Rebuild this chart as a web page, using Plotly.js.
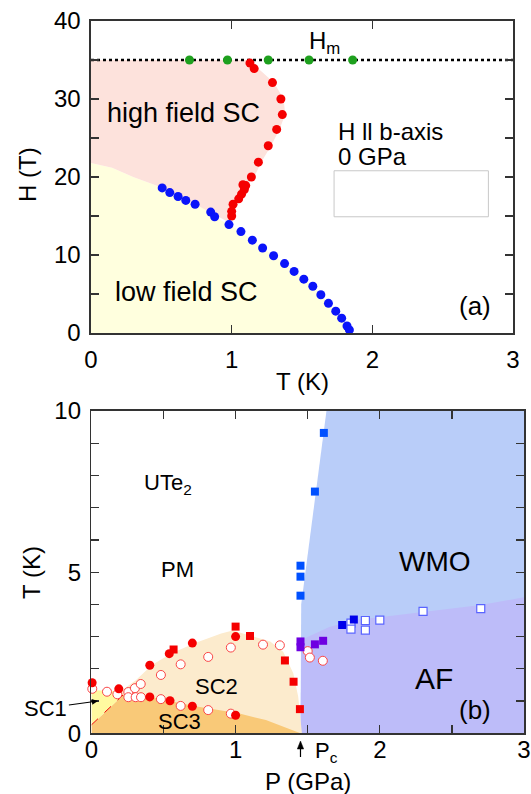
<!DOCTYPE html>
<html>
<head>
<meta charset="utf-8">
<script src="https://cdn.plot.ly/plotly-3.0.1.min.js"></script>
<style>
html,body{margin:0;padding:0;background:#fff;}
#chart{width:531px;height:794px;}
</style>
</head>
<body>
<div id="chart"></div>
<script>
// ---------- Panel (a): H vs T at 0 GPa ----------
const greenT = [0.70, 0.97, 1.26, 1.55, 1.86];
const greenH = [35, 35, 35, 35, 35];

const redT = [1.13, 1.16, 1.29, 1.35, 1.36, 1.32, 1.26, 1.19, 1.14, 1.10, 1.08, 1.09, 1.07, 1.05, 1.01, 1.00, 1.00];
const redH = [34.6, 33.9, 32.1, 30.0, 28.0, 26.1, 24.0, 21.9, 20.0, 18.9, 19.0, 18.4, 17.8, 17.2, 16.5, 15.6, 15.0];

const blueT = [0.506, 0.560, 0.619, 0.674, 0.740, 0.851, 0.879, 0.981, 1.066, 1.147, 1.220, 1.298, 1.376, 1.444, 1.513, 1.577, 1.634, 1.688, 1.740, 1.782, 1.820, 1.837];
const blueH = [18.6, 18.0, 17.5, 17.0, 16.5, 15.5, 14.9, 13.9, 13.0, 11.9, 10.9, 9.9, 8.9, 7.9, 6.9, 6.0, 4.9, 3.8, 2.8, 1.9, 0.9, 0.4];

const lowEdgeT = [0, 0.15, 0.30, 0.45];
const lowEdgeH = [21.8, 21.2, 20.0, 19.0];

const pinkT = [0, 0, 1.12, 1.17, 1.30, 1.37, 1.38, 1.34, 1.28, 1.21, 1.16, 1.11, 1.08, 1.03, 1.01, 0.98, 0.88, 0.74, 0.62, 0.506, 0.45, 0.30, 0.15, 0];
const pinkH = [21.8, 35, 35, 34.2, 32.1, 30.0, 28.0, 26.1, 24.0, 21.9, 20.0, 19.0, 17.5, 16.5, 15.2, 14.2, 15.2, 16.5, 17.5, 18.6, 19.0, 20.0, 21.2, 21.8];

const hmLineT = [0, 3];
const hmLineH = [35, 35];

// ---------- Panel (b): T vs P ----------
const wmoSqP = [1.612, 1.55, 1.45, 1.45, 1.45];
const wmoSqT = [9.32, 7.50, 5.20, 4.86, 4.27];
const darkSqP = [1.739, 1.82];
const darkSqT = [3.36, 3.53];
const openSqP = [1.80, 1.80, 1.90, 1.90, 2.00, 2.30, 2.70];
const openSqT = [3.42, 3.23, 3.50, 3.20, 3.51, 3.78, 3.87];
const purpleSqP = [1.45, 1.45, 1.55, 1.607];
const purpleSqT = [2.85, 2.67, 2.76, 2.87];
const redSqP = [1.00, 1.10, 1.342, 1.402, 1.446, 0.570];
const redSqT = [3.31, 3.02, 2.26, 1.60, 0.75, 2.60];
const redDotP = [0.005, 0.19, 0.405, 0.54, 0.70, 1.00, 0.405, 0.545, 0.70, 1.00];
const redDotT = [1.57, 1.38, 2.11, 2.47, 2.80, 3.00, 1.13, 1.01, 0.84, 0.56];
const openDotP = [0.006, 0.108, 0.18, 0.256, 0.256, 0.302, 0.307, 0.342, 0.344, 0.482, 0.482, 0.619, 0.619, 0.81, 0.81, 0.967, 0.967, 1.19, 1.307, 1.50, 1.515, 1.605];
const openDotT = [1.38, 1.29, 1.21, 1.28, 1.12, 1.40, 1.12, 1.53, 1.12, 1.81, 1.06, 2.14, 0.85, 2.37, 0.72, 2.66, 0.61, 2.75, 2.73, 2.55, 2.35, 2.25];

const wmoP = [1.45, 1.455, 1.63, 3, 3];
const wmoT = [0, 4.0, 10, 10, 0];
const afP = [1.45, 1.457, 1.65, 1.84, 2.07, 2.30, 2.70, 3.0, 3.0];
const afT = [0, 2.90, 3.30, 3.52, 3.64, 3.76, 3.98, 4.22, 0];
const sc2P = [0.20, 0.31, 0.42, 0.556, 0.72, 0.90, 0.98, 1.03, 1.24, 1.33, 1.40, 1.434, 1.46, 0.20];
const sc2T = [1.30, 1.65, 2.12, 2.48, 2.80, 3.10, 3.19, 3.12, 2.85, 2.53, 1.86, 1.14, 0, 0];
const sc3P = [0, 0, 0.22, 0.30, 0.42, 0.72, 1.02, 1.21, 1.45];
const sc3T = [0, 0.26, 1.19, 1.20, 1.12, 0.84, 0.62, 0.41, 0];
const sc1P = [0, 0, 0.20, 0.22];
const sc1T = [0.26, 1.34, 1.30, 1.19];
const dashP = [0, 0.22];
const dashT = [0.26, 1.19];
const pcP = 1.45;

const FONT = '"Liberation Sans", Arial, Helvetica, sans-serif';

function region(x, y, color, xa, ya) {
  return {x: x, y: y, xaxis: xa, yaxis: ya, type: 'scatter', mode: 'lines', fill: 'toself',
    fillcolor: color, line: {width: 0, color: color}, hoverinfo: 'skip', showlegend: false};
}
function pts(x, y, xa, ya, symbol, size, fill, lineColor, lineW) {
  return {x: x, y: y, xaxis: xa, yaxis: ya, type: 'scatter', mode: 'markers', cliponaxis: false,
    marker: {symbol: symbol, size: size, color: fill, line: {color: lineColor, width: lineW}}, showlegend: false};
}

const lowX = [0].concat(lowEdgeT, blueT, [1.85, 0]);
const lowY = [0].concat(lowEdgeH, blueH, [0, 0]);

const data = [
  region(lowX, lowY, 'rgb(255,255,222)', 'x', 'y'),
  region(pinkT, pinkH, 'rgb(253,226,220)', 'x', 'y'),
  {x: hmLineT, y: hmLineH, xaxis: 'x', yaxis: 'y', mode: 'lines', line: {color: '#000', width: 2.5, dash: 'dot'}, showlegend: false},
  pts(greenT, greenH, 'x', 'y', 'circle', 9, 'rgb(30,160,30)', 'rgb(30,160,30)', 0),
  pts(redT, redH, 'x', 'y', 'circle', 9, 'rgb(245,0,0)', 'rgb(245,0,0)', 0),
  pts(blueT, blueH, 'x', 'y', 'circle', 9, 'rgb(10,20,250)', 'rgb(10,20,250)', 0),

  region(wmoP, wmoT, 'rgb(185,205,249)', 'x2', 'y2'),
  region(afP, afT, 'rgb(189,188,249)', 'x2', 'y2'),
  region(sc2P, sc2T, 'rgb(252,235,205)', 'x2', 'y2'),
  region(sc3P, sc3T, 'rgb(249,201,120)', 'x2', 'y2'),
  region(sc1P, sc1T, 'rgb(255,250,160)', 'x2', 'y2'),
  {x: dashP, y: dashT, xaxis: 'x2', yaxis: 'y2', mode: 'lines', line: {color: 'rgb(240,0,0)', width: 1, dash: 'dash'}, showlegend: false},
  pts(openDotP, openDotT, 'x2', 'y2', 'circle', 9, '#fff', 'rgb(250,70,70)', 1),
  pts(redDotP, redDotT, 'x2', 'y2', 'circle', 9, 'rgb(245,0,0)', 'rgb(245,0,0)', 0),
  pts(redSqP, redSqT, 'x2', 'y2', 'square', 8, 'rgb(245,0,0)', 'rgb(245,0,0)', 0),
  pts(wmoSqP, wmoSqT, 'x2', 'y2', 'square', 8, 'rgb(0,80,255)', 'rgb(0,80,255)', 0),
  pts(openSqP, openSqT, 'x2', 'y2', 'square', 8, '#fff', 'rgb(90,100,255)', 1.2),
  pts(darkSqP, darkSqT, 'x2', 'y2', 'square', 8, 'rgb(0,0,235)', 'rgb(0,0,235)', 0),
  pts(purpleSqP, purpleSqT, 'x2', 'y2', 'square', 8, 'rgb(110,0,225)', 'rgb(110,0,225)', 0)
];

const axBase = {
  showgrid: false, zeroline: false, showline: true, linecolor: '#333', linewidth: 1.6,
  mirror: 'ticks', ticks: 'inside', ticklen: 8, tickwidth: 1.3, tickcolor: '#333',
  tickfont: {family: FONT, size: 24, color: '#000'}, fixedrange: true
};
function ax(extra) { return Object.assign({}, axBase, extra); }
const minorTicks = (d) => ({dtick: d, ticks: 'inside', ticklen: 8, tickwidth: 1.3, tickcolor: '#333'});

const annFont = (s) => ({family: FONT, size: s, color: '#000'});
function txt(x, y, t, s, xa, ya, anchor) {
  return {x: x, y: y, xref: xa, yref: ya, text: t, showarrow: false, font: annFont(s),
    xanchor: anchor || 'center', yanchor: 'middle'};
}
const py = (p) => 1 - p / 794;

const layout = {
  width: 531, height: 794,
  margin: {l: 0, r: 0, t: 0, b: 0},
  paper_bgcolor: '#fff', plot_bgcolor: 'rgba(0,0,0,0)',
  showlegend: false,
  font: {family: FONT, color: '#000'},
  xaxis: ax({domain: [91/531, 513/531], range: [0, 3], tickvals: [0, 1, 2, 3], anchor: 'y', ticklabelstandoff: 5}),
  yaxis: ax({domain: [461/794, 773/794], range: [0, 40], tickvals: [0, 10, 20, 30, 40], anchor: 'x',
    minor: minorTicks(5), ticklabelstandoff: 4}),
  xaxis2: ax({domain: [91.4/531, 524/531], range: [0, 3], tickvals: [0, 1, 2, 3], anchor: 'y2',
    minor: minorTicks(0.5), ticklabelstandoff: -6}),
  yaxis2: ax({domain: [60.7/794, 383/794], range: [0, 10], tickvals: [0, 5, 10], anchor: 'x2',
    minor: minorTicks(1), ticklabelstandoff: 4}),
  shapes: [
    {type: 'rect', xref: 'x', yref: 'y', x0: 1.728, x1: 2.825, y0: 14.9, y1: 20.8,
     line: {color: 'rgb(200,200,200)', width: 1}, fillcolor: '#fff', layer: 'above'},
    {type: 'line', xref: 'x2', yref: 'paper', x0: pcP, x1: pcP, y0: py(757), y1: py(747),
     line: {color: '#000', width: 1.2}},
    {type: 'path', xref: 'x2', yref: 'paper', fillcolor: '#000', line: {color: '#000', width: 0.5},
     path: 'M ' + pcP + ' ' + py(741) + ' L ' + (pcP - 0.022) + ' ' + py(749) + ' L ' + (pcP + 0.022) + ' ' + py(749) + ' Z'}
  ],
  annotations: [
    // axis titles
    {x: 27/531, y: py(175), xref: 'paper', yref: 'paper', text: 'H (T)', textangle: -90, showarrow: false, font: annFont(24), xanchor: 'center', yanchor: 'middle'},
    {x: 302/531, y: py(381.7), xref: 'paper', yref: 'paper', text: 'T (K)', showarrow: false, font: annFont(24), xanchor: 'center', yanchor: 'middle'},
    {x: 31/531, y: py(573), xref: 'paper', yref: 'paper', text: 'T (K)', textangle: -90, showarrow: false, font: annFont(24), xanchor: 'center', yanchor: 'middle'},
    {x: 308/531, y: py(781.7), xref: 'paper', yref: 'paper', text: 'P (GPa)', showarrow: false, font: annFont(24), xanchor: 'center', yanchor: 'middle'},
    // panel (a) labels
    txt(1.66, 37.3, 'H<sub>m</sub>', 24, 'x', 'y'),
    txt(0.66, 28.2, 'high field SC', 27, 'x', 'y'),
    txt(0.68, 5.3, 'low field SC', 27, 'x', 'y'),
    txt(1.74, 25.8, 'H ll b-axis', 24, 'x', 'y', 'left'),
    txt(1.74, 22.6, '0 GPa', 24, 'x', 'y', 'left'),
    txt(2.73, 3.4, '(a)', 26, 'x', 'y'),
    // panel (b) labels
    txt(0.53, 7.74, 'UTe<sub>2</sub>', 22, 'x2', 'y2'),
    txt(0.595, 5.07, 'PM', 22, 'x2', 'y2'),
    txt(2.386, 5.33, 'WMO', 28, 'x2', 'y2'),
    txt(2.374, 1.71, 'AF', 30, 'x2', 'y2'),
    txt(2.66, 0.72, '(b)', 26, 'x2', 'y2'),
    txt(0.868, 1.45, 'SC2', 22, 'x2', 'y2'),
    txt(0.614, 0.36, 'SC3', 22, 'x2', 'y2'),
    {x: 0.045, y: 1.0, xref: 'x2', yref: 'y2', text: 'SC1', showarrow: true, ax: -52, ay: 7,
     arrowhead: 2, arrowsize: 1, arrowwidth: 1.2, arrowcolor: '#000', font: annFont(22), standoff: 0},
    {x: 313/531, y: py(752), xref: 'paper', yref: 'paper', text: 'P<sub>c</sub>', showarrow: false, font: annFont(22), xanchor: 'left', yanchor: 'middle'}
  ]
};

Plotly.newPlot('chart', data, layout, {staticPlot: true, displayModeBar: false});
</script>
</body>
</html>
